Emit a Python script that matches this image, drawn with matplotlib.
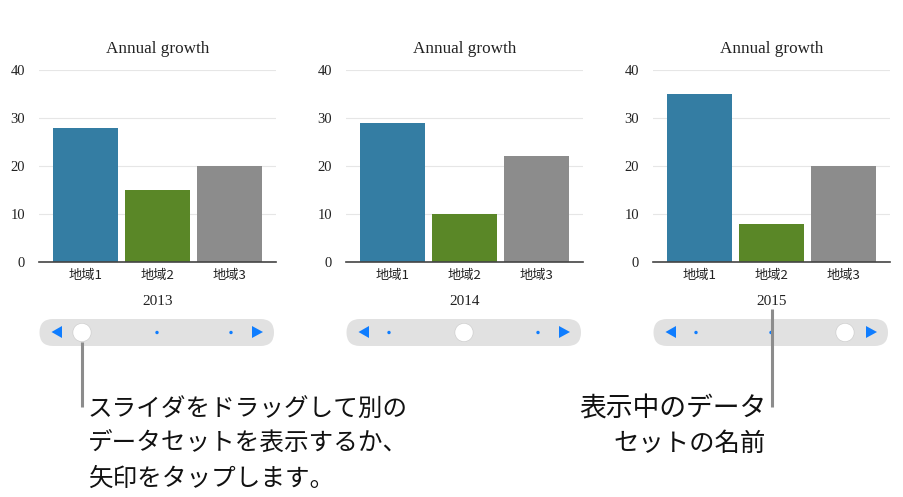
import matplotlib
matplotlib.use("Agg")
import matplotlib.pyplot as plt
from matplotlib.patches import FancyBboxPatch, Circle, Polygon

# data
regions = ["地域1", "地域2", "地域3"]
years = ["2013", "2014", "2015"]
values_2013 = [28, 15, 20]
values_2014 = [29, 10, 22]
values_2015 = [35, 8, 20]
yticks = [0, 10, 20, 30, 40]
bar_colors = ["#347da3", "#5a8727", "#8c8c8c"]

W, H = 904, 497
JP = ["Noto Sans CJK JP", "DejaVu Sans"]
SERIF = "Liberation Serif"

fig = plt.figure(figsize=(W / 100, H / 100), dpi=100)

# overlay in pixel coordinates for sliders and callouts
over = fig.add_axes([0, 0, 1, 1], zorder=5)
over.set_xlim(0, W)
over.set_ylim(H, 0)
over.axis("off")


def slider(left, thumb):
    over.add_patch(FancyBboxPatch((left + 0.5, 319), 234.5, 27,
                                  boxstyle="round,pad=0,rounding_size=13.5",
                                  fc="#e1e1e1", ec="none", zorder=1))
    blue = "#0f7dff"
    over.add_patch(Polygon([[left + 23, 326], [left + 23, 338], [left + 12.5, 332]],
                           fc=blue, ec="none", zorder=2))
    over.add_patch(Polygon([[left + 213, 326], [left + 213, 338], [left + 224, 332]],
                           fc=blue, ec="none", zorder=2))
    for i, off in enumerate([43, 118, 192]):
        if i == thumb:
            over.add_patch(Circle((left + off, 332.5), 9.5, fc="#d0d0d0", ec="none", zorder=3))
            over.add_patch(Circle((left + off, 332.5), 8.8, fc="white", ec="none", zorder=4))
        else:
            over.add_patch(Circle((left + off, 332.5), 1.7, fc=blue, ec="none", zorder=3))


def panel(left, values, year, thumb):
    ax = fig.add_axes([left / W, 1 - 262 / H, 237 / W, 192 / H])
    ax.bar(range(3), values, width=0.91, color=bar_colors, zorder=2)
    ax.set_xlim(1 - 118.5 / 72, 1 + 118.5 / 72)
    ax.set_ylim(0, 40)
    ax.set_yticks(yticks)
    ax.set_xticks(range(3))
    ax.set_xticklabels(regions, family=JP, fontsize=9.5, color="#222222")
    ax.tick_params(length=0)
    ax.tick_params(axis="x", pad=5)
    ax.tick_params(axis="y", pad=10)
    for lab in ax.get_yticklabels():
        lab.set_family(SERIF)
        lab.set_fontsize(10.5)
        lab.set_color("#222222")
    ax.grid(axis="y", color="#e6e6e6", lw=0.8, zorder=0)
    ax.set_axisbelow(True)
    for s in ["top", "left", "right"]:
        ax.spines[s].set_visible(False)
    ax.spines["bottom"].set_color("#444444")
    ax.spines["bottom"].set_linewidth(1.2)
    over.text(left + 118.5, 49, "Annual growth", family=SERIF, fontsize=12.3,
              ha="center", va="center", color="#222222")
    over.text(left + 118.5, 301.5, year, family=SERIF, fontsize=11,
              ha="center", va="center", color="#222222")
    slider(left, thumb)


panel(39, values_2013, years[0], 0)
panel(346, values_2014, years[1], 1)
panel(653, values_2015, years[2], 2)

# callouts
over.plot([82, 82], [342, 407], color="#8c8c8c", lw=2.2, zorder=6, solid_capstyle="butt")
over.plot([772, 772], [309, 407], color="#8c8c8c", lw=2.2, zorder=6, solid_capstyle="butt")

for y, s in zip([409, 444, 479], ["スライダをドラッグして別の", "データセットを表示するか、", "矢印をタップします。"]):
    over.text(88, y, s, family=JP, fontsize=17.7, ha="left", va="center", color="#111111")
over.text(766, 409, "表示中のデータ", family=JP, fontsize=19.3, ha="right", va="center", color="#111111")
over.text(766, 444, "セットの名前", family=JP, fontsize=18.3, ha="right", va="center", color="#111111")

fig.savefig("out.png", dpi=100)
